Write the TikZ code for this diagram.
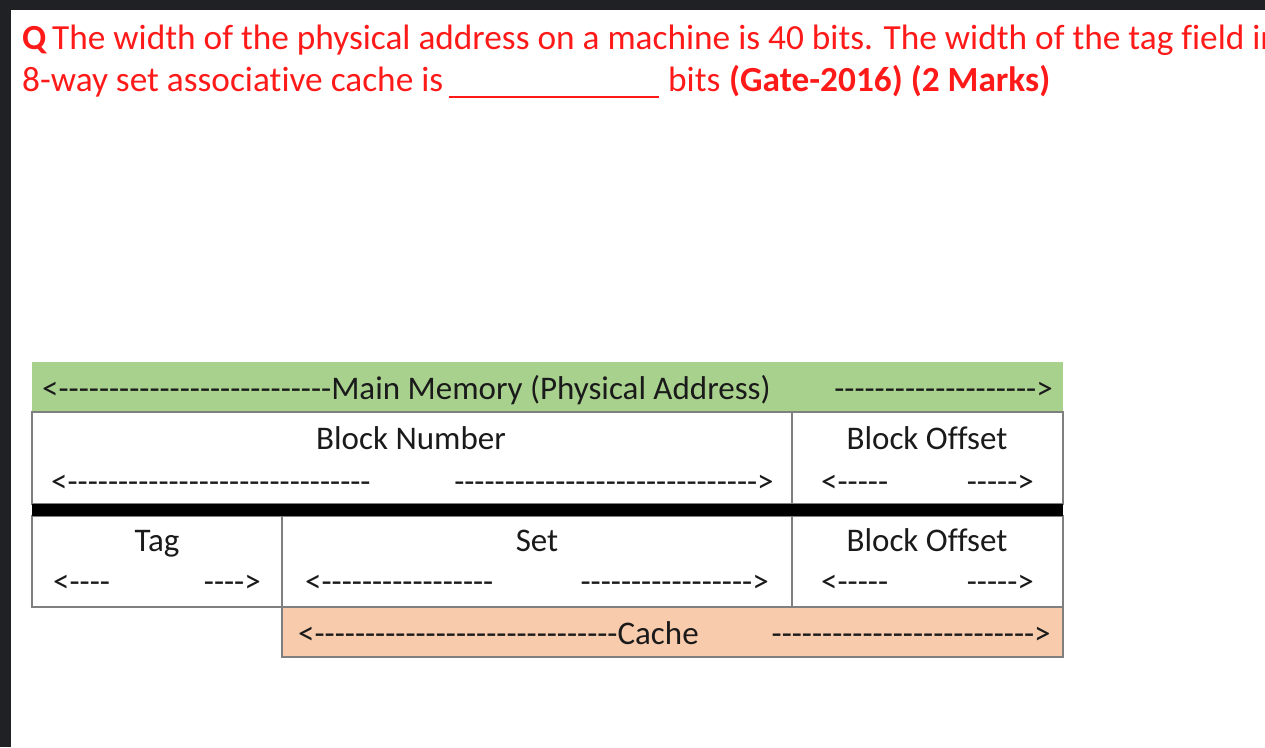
\documentclass[tikz,border=0pt]{standalone}
\usepackage{fontspec}
\setmainfont{Carlito}[Ligatures={TeXOff,NoCommon}]
\newcommand\dashrun[1]{\ifnum#1>0 -\expandafter\dashrun\expandafter{\the\numexpr#1-1\relax}\fi}
\definecolor{framedark}{HTML}{202124}
\definecolor{qred}{HTML}{FF1A1A}
\definecolor{memgreen}{HTML}{A9D18E}
\definecolor{cacheorange}{HTML}{F8CBAD}
\definecolor{edgegray}{HTML}{7F7F7F}
\definecolor{ink}{HTML}{1A1A1A}
\tikzset{
  titletext/.style={inner sep=0pt, text=qred, font=\fontsize{35.3}{40}\selectfont},
  celltext/.style={inner sep=0pt, text=ink, font=\fontsize{33}{40}\selectfont},
  cellbox/.style={draw=edgegray, line width=1.2pt},
}
\begin{document}
\begin{tikzpicture}[x=1pt,y=-1pt]
\useasboundingbox (0,0) rectangle (1265,747);
\clip (0,0) rectangle (1265,747);
\fill[white] (0,0) rectangle (1265,747);
\fill[framedark] (0,0) rectangle (1265,10);
\fill[framedark] (0,0) rectangle (11,747);

% title
\node[titletext, anchor=base west] (q) at (22,49) {\textbf{Q}};
\node[titletext, anchor=base west] (l1) at (52,49) {The width of the physical address on a machine is 40 bits. The width of the tag field in};
\node[titletext, anchor=base west] (l2) at (22,91) {8-way set associative cache is};
\coordinate (blankA) at (449,97);
\coordinate (blankB) at (659,97);
\draw[qred, line width=1.6pt] (blankA) -- (blankB);
\node[titletext, anchor=base west] (bits) at (668,91) {bits};
\node[titletext, anchor=base west] (gate) at (729,91) {\textbf{(Gate-2016) (2 Marks)}};

% boxes
\fill[memgreen] (32,362) rectangle (1063,412);
\fill[cacheorange] (282,607) rectangle (1063,657);
\draw[cellbox] (32,412) rectangle (792,504);
\draw[cellbox] (792,412) rectangle (1063,504);
\draw[cellbox] (32,516) rectangle (282,607);
\draw[cellbox] (282,516) rectangle (792,607);
\draw[cellbox] (792,516) rectangle (1063,607);
\draw[cellbox] (282,607) rectangle (1063,657);
\fill[black] (32,504) rectangle (1063,516);

% main memory row
\node[celltext, anchor=base west] (mmL) at (42,399) {<\dashrun{27}Main Memory (Physical Address)};
\node[celltext, anchor=base east] (mmR) at (1053,399) {\dashrun{20}>};

% block number row
\node[celltext, anchor=base] (bn) at (411,449) {Block Number};
\node[celltext, anchor=base west] (bnL) at (51,492) {<\dashrun{30}};
\node[celltext, anchor=base east] (bnR) at (774,492) {\dashrun{30}>};
\node[celltext, anchor=base] (bo1) at (927,449) {Block Offset};
\node[celltext, anchor=base west] (bo1L) at (821,492) {<\dashrun{5}};
\node[celltext, anchor=base east] (bo1R) at (1034,492) {\dashrun{5}>};

% tag / set / offset row
\node[celltext, anchor=base] (tag) at (157,551) {Tag};
\node[celltext, anchor=base west] (tagL) at (53,592) {<\dashrun{4}};
\node[celltext, anchor=base east] (tagR) at (261,592) {\dashrun{4}>};
\node[celltext, anchor=base] (set) at (537,551) {Set};
\node[celltext, anchor=base west] (setL) at (305,592) {<\dashrun{17}};
\node[celltext, anchor=base east] (setR) at (769,592) {\dashrun{17}>};
\node[celltext, anchor=base] (bo2) at (927,551) {Block Offset};
\node[celltext, anchor=base west] (bo2L) at (821,592) {<\dashrun{5}};
\node[celltext, anchor=base east] (bo2R) at (1034,592) {\dashrun{5}>};

% cache row
\node[celltext, anchor=base west] (cL) at (298,644) {<\dashrun{30}Cache};
\node[celltext, anchor=base east] (cR) at (1051,644) {\dashrun{26}>};
\end{tikzpicture}
\end{document}
